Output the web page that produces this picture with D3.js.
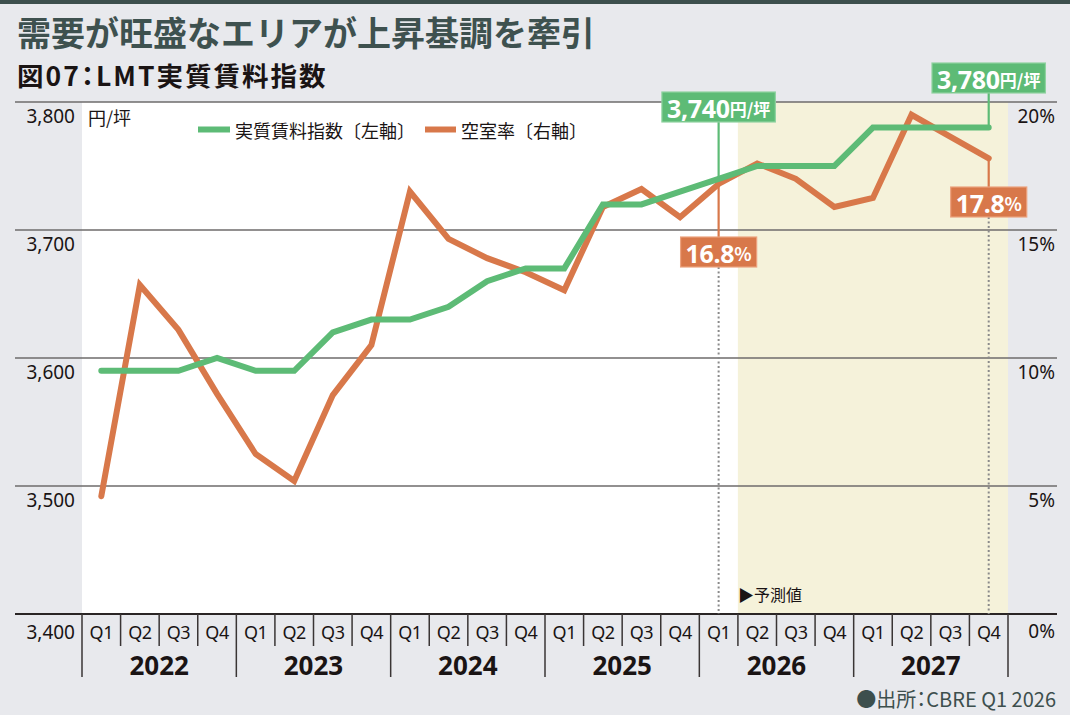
<!DOCTYPE html>
<html>
<head>
<meta charset="utf-8">
<script src="https://cdn.jsdelivr.net/npm/d3@7/dist/d3.min.js"></script>
<style>
  html, body { margin: 0; padding: 0; background: #e8e9ed; }
  svg { display: block; }
  text { font-family: "Noto Sans", "Noto Sans CJK JP", sans-serif; }
  .jp { font-family: "Noto Sans CJK JP", "Noto Sans", sans-serif; }
  .palt { font-feature-settings: "palt" 1; }
</style>
</head>
<body>
<svg id="chart" width="1070" height="715"></svg>
<script>
// ---------- data ----------
const years = ["2022", "2023", "2024", "2025", "2026", "2027"];
const quarterNames = ["Q1", "Q2", "Q3", "Q4"];
const periods = years.flatMap(y => quarterNames.map(q => y + " " + q));
const rentIndex = [3590, 3590, 3590, 3600, 3590, 3590, 3620, 3630, 3630, 3640, 3660, 3670,
                   3670, 3720, 3720, 3730, 3740, 3750, 3750, 3750, 3780, 3780, 3780, 3780];
const vacancy = [4.6, 12.85, 11.1, 8.6, 6.25, 5.2, 8.55, 10.5, 16.5, 14.65, 13.9, 13.35,
                 12.65, 15.9, 16.6, 15.5, 16.8, 17.6, 17.0, 15.9, 16.25, 19.5, 18.65, 17.8];
const leftTicks = [3400, 3500, 3600, 3700, 3800];
const leftTickLabels = ["3,400", "3,500", "3,600", "3,700", "3,800"];
const rightTicks = [0, 5, 10, 15, 20];
const rightTickLabels = ["0%", "5%", "10%", "15%", "20%"];
const forecastStart = "2026 Q2";
const title = "需要が旺盛なエリアが上昇基調を牽引";
const subtitle = "図07：LMT実質賃料指数";
const legendLabels = ["実質賃料指数〔左軸〕", "空室率〔右軸〕"];
const sourceText = "●出所：CBRE Q1 2026";
const forecastLabel = "▶予測値";
const unitLabel = "円/坪";
const callouts = [
  { idx: 16, series: "rent", main: "3,740", unit: "円/坪" },
  { idx: 23, series: "rent", main: "3,780", unit: "円/坪" },
  { idx: 16, series: "vac", main: "16.8", unit: "%" },
  { idx: 23, series: "vac", main: "17.8", unit: "%" }
];

// ---------- setup ----------
const GREEN = "#5dbb76", ORANGE = "#d8784a", SLATE = "#3d4f4d";
const svg = d3.select("#chart");
const L = 82, R = 1008, T = 102, B = 614;

const x = d3.scaleBand().domain(periods).range([L, R]).padding(0);
const bw = x.bandwidth();
const cx = p => x(p) + bw / 2;
const yL = d3.scaleLinear().domain([3400, 3800]).range([B, T]);
const yR = d3.scaleLinear().domain([0, 20]).range([B, T]);

// top bar
svg.append("rect").attr("x", 0).attr("y", 0).attr("width", 1070).attr("height", 4).attr("fill", SLATE);

// titles
svg.append("text").attr("class", "jp").attr("x", 17).attr("y", 45.5)
  .attr("font-size", 34).attr("font-weight", 700).attr("fill", "#3e514f").text(title);
svg.append("text").attr("class", "jp palt").attr("x", 17).attr("y", 86)
  .attr("font-size", 26.5).attr("font-weight", 700).attr("letter-spacing", 2)
  .attr("fill", "#1a1414").text(subtitle);

// plot backgrounds
svg.append("rect").attr("x", L).attr("y", T).attr("width", x(forecastStart) - L).attr("height", B - T).attr("fill", "#ffffff");
svg.append("rect").attr("x", x(forecastStart)).attr("y", T).attr("width", R - x(forecastStart)).attr("height", B - T).attr("fill", "#f5f2da");

// gridlines
svg.append("g").selectAll("line").data(leftTicks.slice(1)).join("line")
  .attr("x1", 15).attr("x2", 1057)
  .attr("y1", d => yL(d)).attr("y2", d => yL(d))
  .attr("stroke", "#6e6b6b").attr("stroke-width", 1.5);

// left tick labels
svg.append("g").selectAll("text").data(leftTicks).join("text")
  .attr("x", 75).attr("y", (d, i) => i === 0 ? 632 : yL(d) + 14)
  .attr("text-anchor", "end").attr("dominant-baseline", "central")
  .attr("font-size", 19).attr("fill", "#1a1414")
  .text((d, i) => leftTickLabels[i]);

// right tick labels
svg.append("g").selectAll("text").data(rightTicks).join("text")
  .attr("x", 1055).attr("y", (d, i) => i === 0 ? 631 : yR(d) + 14)
  .attr("text-anchor", "end").attr("dominant-baseline", "central")
  .attr("font-size", 19).attr("fill", "#1a1414")
  .text((d, i) => rightTickLabels[i]);

// unit
svg.append("text").attr("class", "jp").attr("x", 88).attr("y", 117)
  .attr("dominant-baseline", "central").attr("font-size", 18).attr("fill", "#1a1414").text(unitLabel);

// legend
const legend = svg.append("g");
legend.append("line").attr("x1", 198).attr("x2", 230).attr("y1", 129.5).attr("y2", 129.5)
  .attr("stroke", GREEN).attr("stroke-width", 6);
legend.append("text").attr("class", "jp").attr("x", 235).attr("y", 130).attr("dominant-baseline", "central")
  .attr("font-size", 18).attr("fill", "#1a1414").text(legendLabels[0]);
legend.append("line").attr("x1", 425).attr("x2", 456).attr("y1", 129.5).attr("y2", 129.5)
  .attr("stroke", ORANGE).attr("stroke-width", 6);
legend.append("text").attr("class", "jp").attr("x", 461).attr("y", 130).attr("dominant-baseline", "central")
  .attr("font-size", 18).attr("fill", "#1a1414").text(legendLabels[1]);

// forecast label
svg.append("text").attr("class", "jp").attr("x", x(forecastStart)).attr("y", 594)
  .attr("dominant-baseline", "central").attr("font-size", 16).attr("fill", "#1a1414").text(forecastLabel);

// bottom axis
svg.append("line").attr("x1", 15).attr("x2", 1057).attr("y1", B).attr("y2", B)
  .attr("stroke", "#2a2525").attr("stroke-width", 2);
const bounds = d3.range(periods.length + 1);
svg.append("g").selectAll("line").data(bounds).join("line")
  .attr("x1", i => L + i * bw).attr("x2", i => L + i * bw)
  .attr("y1", B).attr("y2", i => i % 4 === 0 ? 677 : 646)
  .attr("stroke", "#3a3535").attr("stroke-width", 1.5);
svg.append("g").selectAll("text").data(periods).join("text")
  .attr("x", p => cx(p)).attr("y", 632)
  .attr("text-anchor", "middle").attr("dominant-baseline", "central")
  .attr("font-size", 18).attr("fill", "#1a1414").attr("letter-spacing", -0.5)
  .text(p => p.split(" ")[1]);
svg.append("g").selectAll("text").data(years).join("text")
  .attr("x", y => (x(y + " Q1") + x(y + " Q4") + bw) / 2).attr("y", 665)
  .attr("text-anchor", "middle").attr("dominant-baseline", "central")
  .attr("font-size", 26).attr("font-weight", 700).attr("fill", "#1a1414")
  .text(y => y);

// source
svg.append("text").attr("class", "jp palt").attr("x", 1056).attr("y", 698)
  .attr("text-anchor", "end").attr("dominant-baseline", "central")
  .attr("font-size", 20).attr("fill", SLATE).text(sourceText);

// callout geometry
const calloutGeom = callouts.map(c => {
  const p = periods[c.idx];
  const px = cx(p);
  const py = c.series === "rent" ? yL(rentIndex[c.idx]) : yR(vacancy[c.idx]);
  let boxTop;
  if (c.series === "rent") boxTop = c.idx === 16 ? 92 : 63;
  else boxTop = c.idx === 16 ? 237 : 187;
  return Object.assign({}, c, { px, py, boxTop, boxH: 30 });
});

// dotted guides
calloutGeom.filter(c => c.series === "vac").forEach(c => {
  svg.append("line").attr("x1", c.px).attr("x2", c.px)
    .attr("y1", c.boxTop + c.boxH).attr("y2", B)
    .attr("stroke", "#8a8a8a").attr("stroke-width", 2).attr("stroke-dasharray", "2,2.5");
});

// leader lines
calloutGeom.forEach(c => {
  const color = c.series === "rent" ? GREEN : ORANGE;
  const y1 = c.series === "rent" ? c.boxTop + c.boxH : c.py;
  const y2 = c.series === "rent" ? c.py : c.boxTop;
  svg.append("line").attr("x1", c.px).attr("x2", c.px).attr("y1", y1).attr("y2", y2)
    .attr("stroke", color).attr("stroke-width", 2.2);
});

// series lines
const lineRent = d3.line().x((d, i) => cx(periods[i])).y(d => yL(d));
const lineVac = d3.line().x((d, i) => cx(periods[i])).y(d => yR(d));
svg.append("path").datum(vacancy).attr("d", lineVac)
  .attr("fill", "none").attr("stroke", ORANGE).attr("stroke-width", 6)
  .attr("stroke-linejoin", "miter").attr("stroke-linecap", "round");
svg.append("path").datum(rentIndex).attr("d", lineRent)
  .attr("fill", "none").attr("stroke", GREEN).attr("stroke-width", 6)
  .attr("stroke-linejoin", "miter").attr("stroke-linecap", "round");

// callout boxes
calloutGeom.forEach(c => {
  const color = c.series === "rent" ? GREEN : ORANGE;
  const border = c.series === "rent" ? "#8fd3a0" : "#eca27e";
  const g = svg.append("g");
  const rect = g.append("rect").attr("fill", color).attr("stroke", border).attr("stroke-width", 1.2);
  const t = g.append("text").attr("x", c.px).attr("y", c.boxTop + c.boxH / 2 + 1)
    .attr("text-anchor", "middle").attr("dominant-baseline", "central")
    .attr("fill", "#ffffff").attr("font-weight", 700);
  t.append("tspan").attr("font-size", 25).attr("letter-spacing", -0.3).text(c.main);
  t.append("tspan").attr("class", "jp").attr("font-size", c.unit === "%" ? 18 : 17).text(c.unit);
  const bb = t.node().getBBox();
  rect.attr("x", bb.x - 5).attr("y", c.boxTop).attr("width", bb.width + 10).attr("height", c.boxH);
});
</script>
</body>
</html>
